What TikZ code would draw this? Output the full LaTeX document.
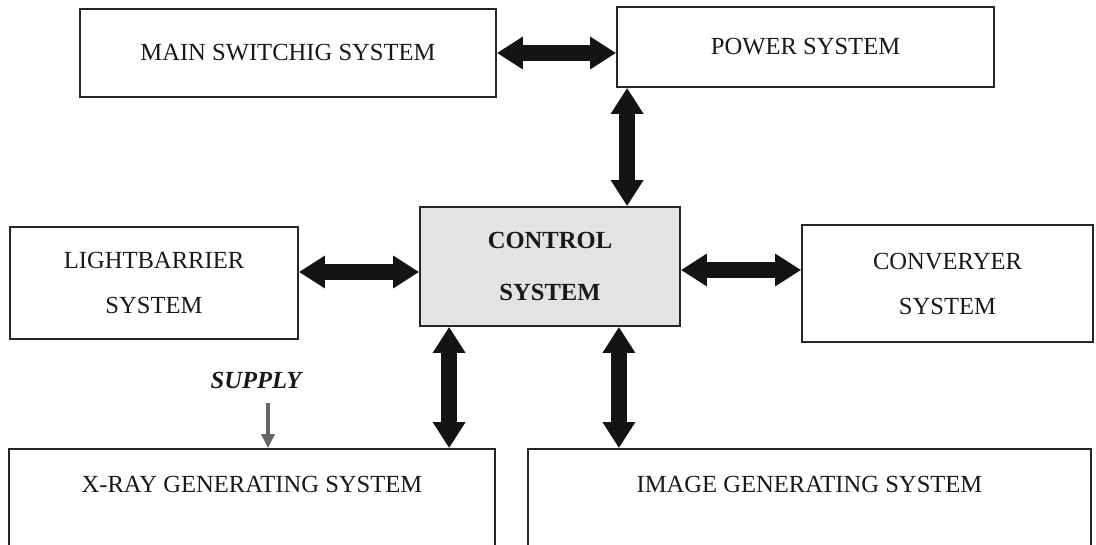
\documentclass[tikz,border=0pt]{standalone}
\usepackage{fontspec}
\setmainfont{Liberation Serif}
\usetikzlibrary{arrows.meta,calc}
\begin{document}
\begin{tikzpicture}[x=0.5pt,y=-0.5pt,
  box/.style={draw=black!85, line width=0.9pt, inner sep=0pt, fill=white,
    font=\fontsize{12.3}{22.5}\selectfont, text=black!90, align=center},
  boxlabel/.style={anchor=center, font=\fontsize{12.3}{22.5}\selectfont, text=black!90},
  bigarrow/.style={line width=8pt, draw=black!92,
    arrows={Triangle[length=13pt,width=15.5pt]-Triangle[length=13pt,width=15.5pt]}},
  thinarrow/.style={line width=1.7pt, draw=black!60,
    arrows={-Triangle[length=7pt,width=6.5pt]}},
  supplytext/.style={font=\fontsize{12.3}{15}\selectfont\bfseries\itshape, text=black!90}
]
\useasboundingbox (0,0) rectangle (1096,545);
\clip (0,0) rectangle (1096,545);
\fill[white] (0,0) rectangle (1096,545);

\node[box, minimum width=208pt, minimum height=44pt] (main) at (288,53) {MAIN SWITCHIG SYSTEM};
\node[box, minimum width=188.5pt, minimum height=40pt] (power) at (805.5,47) {POWER SYSTEM};
\node[box, fill=gray!22, minimum width=130pt, minimum height=59.5pt,
  font=\fontsize{12.3}{26}\selectfont\bfseries] (control) at (550,266.5) {CONTROL\\SYSTEM};
\node[box, minimum width=144pt, minimum height=56pt] (light) at (154,283) {LIGHTBARRIER\\SYSTEM};
\node[box, minimum width=145.5pt, minimum height=58.5pt] (conv) at (947.5,283.5) {CONVERYER\\SYSTEM};
\node[box, minimum width=243pt, minimum height=58pt,
  label={[boxlabel, yshift=-18pt]north:X-RAY GENERATING SYSTEM}] (xray) at (252,507) {};
\node[box, minimum width=281.5pt, minimum height=58pt,
  label={[boxlabel, yshift=-18pt]north:IMAGE GENERATING SYSTEM}] (image) at (809.5,507) {};

\node[supplytext] (supply) at (256,380) {SUPPLY};
\coordinate (supstart) at (268,403);

\draw[bigarrow] (main.east) -- (main.east -| power.west);
\draw[bigarrow] ([xshift=5.5pt]power.south west) -- ([xshift=5.5pt]power.south west |- control.north);
\draw[bigarrow] ([yshift=-2.75pt]control.west) -- ([yshift=-2.75pt]control.west -| light.east);
\draw[bigarrow] ([yshift=-1.75pt]control.east) -- ([yshift=-1.75pt]control.east -| conv.west);
\draw[bigarrow] ([xshift=15pt]control.south west) -- ([xshift=15pt]control.south west |- xray.north);
\draw[bigarrow] ([xshift=-31pt]control.south east) -- ([xshift=-31pt]control.south east |- image.north);
\draw[thinarrow] (supstart) -- (supstart |- xray.north);
\end{tikzpicture}
\end{document}
